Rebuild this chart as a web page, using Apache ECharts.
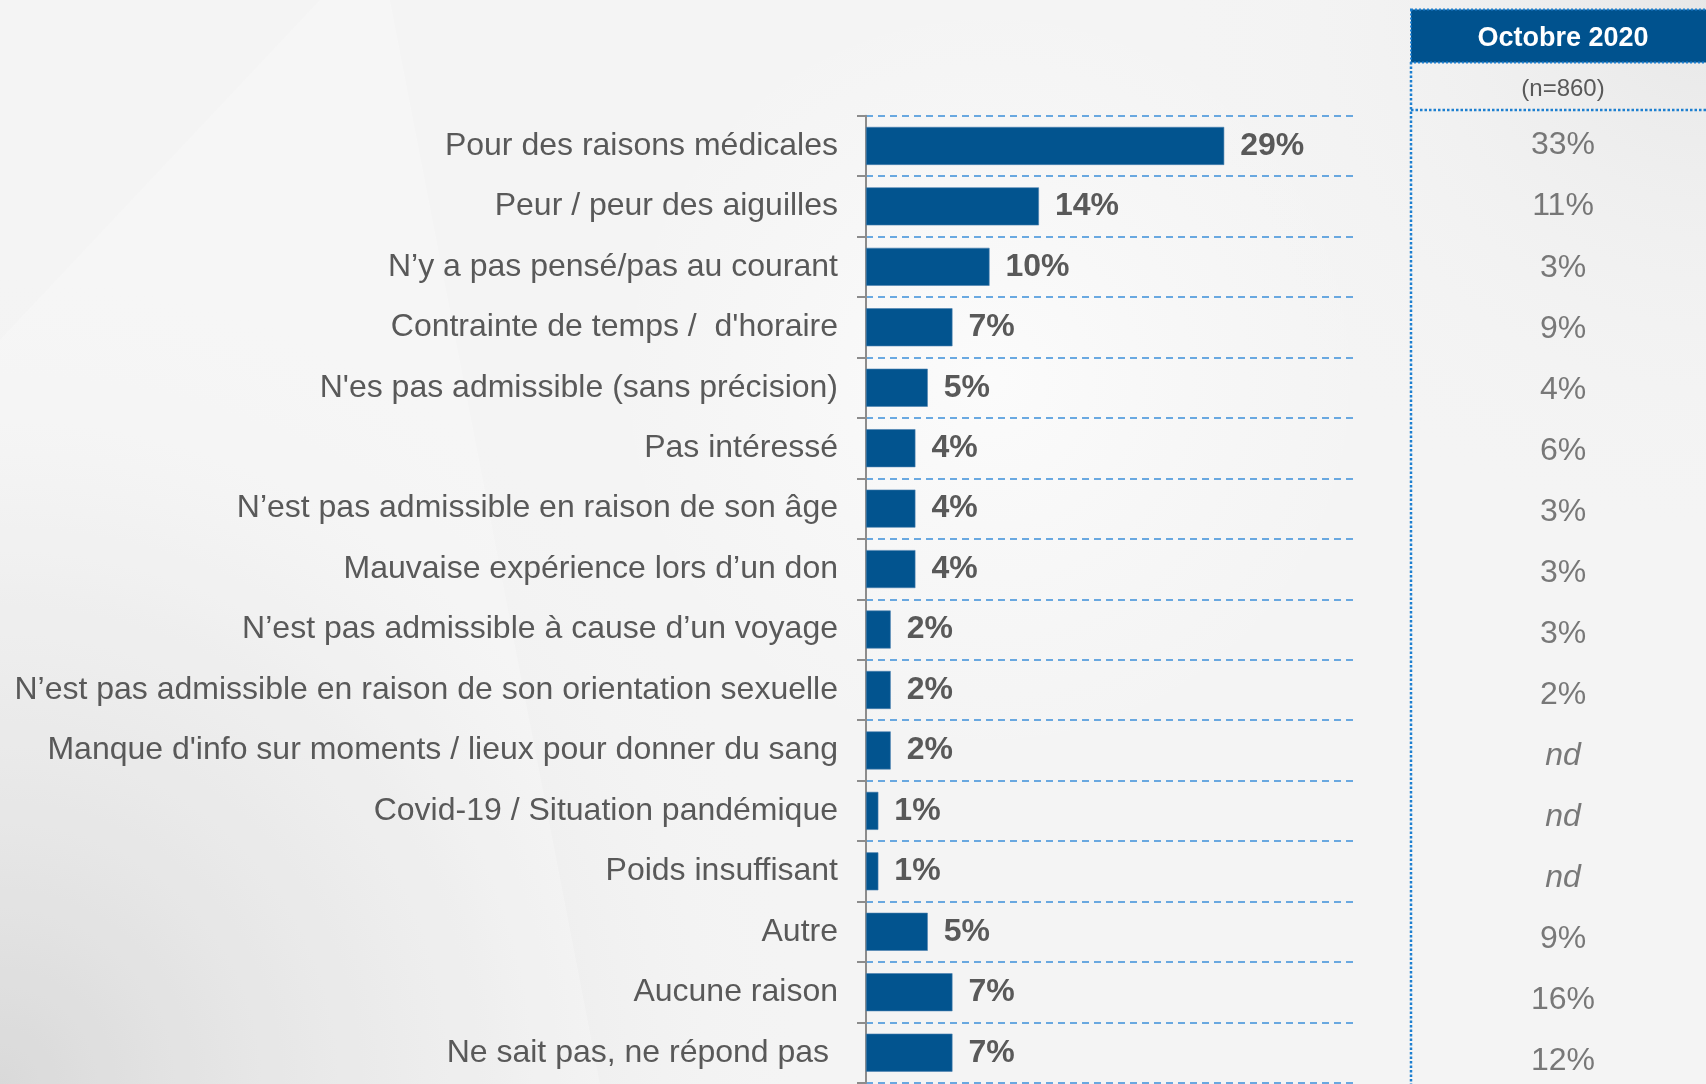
<!DOCTYPE html>
<html>
<head>
<meta charset="utf-8">
<script src="https://cdn.jsdelivr.net/npm/echarts@6/dist/echarts.min.js"></script>
<style>
html,body{margin:0;padding:0;width:1706px;height:1084px;overflow:hidden;}
#c{width:1706px;height:1084px;}
</style>
</head>
<body>
<div id="c"></div>
<script>
const categories = [
  "Pour des raisons médicales",
  "Peur / peur des aiguilles",
  "N’y a pas pensé/pas au courant",
  "Contrainte de temps /  d'horaire",
  "N'es pas admissible (sans précision)",
  "Pas intéressé",
  "N’est pas admissible en raison de son âge",
  "Mauvaise expérience lors d’un don",
  "N’est pas admissible à cause d’un voyage",
  "N’est pas admissible en raison de son orientation sexuelle",
  "Manque d'info sur moments / lieux pour donner du sang",
  "Covid-19 / Situation pandémique",
  "Poids insuffisant",
  "Autre",
  "Aucune raison",
  "Ne sait pas, ne répond pas "
];
const currentValues = [29, 14, 10, 7, 5, 4, 4, 4, 2, 2, 2, 1, 1, 5, 7, 7];
const octobre2020 = [33, 11, 3, 9, 4, 6, 3, 3, 3, 2, null, null, null, 9, 16, 12];
const columnTitle = "Octobre 2020";
const columnSample = "(n=860)";

const FONT = '"Liberation Sans", Arial, sans-serif';
const TXT = '#595959';

const chart = echarts.init(document.getElementById('c'), null, {renderer: 'canvas'});
const bandTop = 115.7, bandH = 60.45;
const gridH = bandH * categories.length;
const rowTop = 115, rowH = 61.07;

chart.setOption({
  backgroundColor: '#f4f4f4',
  animation: false,
  textStyle: {fontFamily: FONT},
  graphic: [
    {
      type: 'rect', z: -20, silent: true,
      shape: {x: 0, y: 0, width: 1706, height: 1084},
      style: {fill: {type: 'radial', x: 0, y: 1, r: 0.75, colorStops: [
        {offset: 0, color: 'rgba(205,205,205,0.95)'},
        {offset: 0.6, color: 'rgba(225,225,225,0.5)'},
        {offset: 1, color: 'rgba(244,244,244,0)'}
      ]}}
    },
    {
      type: 'rect', z: -20, silent: true,
      shape: {x: 0, y: 0, width: 1706, height: 1084},
      style: {fill: {type: 'radial', x: 1, y: 0, r: 0.5, colorStops: [
        {offset: 0, color: 'rgba(228,228,228,0.8)'},
        {offset: 1, color: 'rgba(244,244,244,0)'}
      ]}}
    },
    {
      type: 'rect', z: -20, silent: true,
      shape: {x: 0, y: 0, width: 1706, height: 1084},
      style: {fill: {type: 'radial', x: 0.58, y: 0.35, r: 0.35, colorStops: [
        {offset: 0, color: 'rgba(252,252,252,0.9)'},
        {offset: 1, color: 'rgba(250,250,250,0)'}
      ]}}
    },
    {
      type: 'polygon', z: -10, silent: true,
      shape: {points: [[320, 0], [390, 0], [600, 1084], [0, 1084], [0, 340]]},
      style: {fill: 'rgba(255,255,255,0.22)'}
    },
    {
      type: 'rect', z: 5,
      shape: {x: 1411, y: 9.5, width: 320, height: 53},
      style: {fill: '#00528E', stroke: '#1C7FD0', lineWidth: 2, lineDash: [2, 2]}
    },
    {
      type: 'text', z: 6,
      x: 1563, y: 39,
      style: {text: columnTitle, fill: '#ffffff', font: 'bold 27px ' + FONT, align: 'center', verticalAlign: 'middle'}
    },
    {
      type: 'text', z: 6,
      x: 1563, y: 89,
      style: {text: columnSample, fill: TXT, font: '24px ' + FONT, align: 'center', verticalAlign: 'middle'}
    },
    {
      type: 'line', z: 5,
      shape: {x1: 1411, y1: 110, x2: 1706, y2: 110},
      style: {stroke: '#1C7FD0', lineWidth: 2.5, lineDash: [2.5, 2]}
    },
    {
      type: 'line', z: 5,
      shape: {x1: 1411, y1: 62, x2: 1411, y2: 1084},
      style: {stroke: '#1C7FD0', lineWidth: 2.5, lineDash: [2.5, 2]}
    }
  ],
  grid: [
    {left: 866, top: bandTop, width: 491, height: gridH, containLabel: false, outerBoundsMode: 'none'},
    {left: 1421, top: rowTop, width: 284, height: rowH * categories.length, containLabel: false, outerBoundsMode: 'none'}
  ],
  xAxis: [
    {gridIndex: 0, type: 'value', min: 0, max: 39.75, show: false},
    {gridIndex: 1, type: 'value', min: 0, max: 1, show: false}
  ],
  yAxis: [
    {
      gridIndex: 0, type: 'category', data: categories, inverse: true,
      axisLine: {show: true, lineStyle: {color: '#8c8c8c', width: 2}},
      axisTick: {show: true, length: 9, lineStyle: {color: '#8c8c8c', width: 2}},
      splitLine: {show: true, lineStyle: {color: '#3B8FD9', width: 1.5, type: [7, 5]}},
      axisLabel: {color: TXT, fontSize: 32, fontFamily: FONT, margin: 28}
    },
    {
      gridIndex: 1, type: 'category', data: categories, inverse: true, show: false
    }
  ],
  series: [
    {
      type: 'bar', xAxisIndex: 0, yAxisIndex: 0,
      data: currentValues,
      barWidth: 38,
      itemStyle: {color: '#02548F', borderColor: '#4a7fae', borderWidth: 0.6},
      label: {
        show: true, position: 'right', distance: 16,
        formatter: '{c}%', color: TXT, fontSize: 32, fontWeight: 'bold', fontFamily: FONT
      }
    },
    {
      type: 'scatter', xAxisIndex: 1, yAxisIndex: 1,
      symbolSize: 0,
      data: octobre2020.map((v, i) => ({value: [0.5, i], raw: v})),
      label: {
        show: true, position: 'inside', offset: [0, 0],
        formatter: p => p.data.raw === null ? '{it|nd}' : '{n|' + p.data.raw + '%}',
        rich: {
          n: {color: TXT, fontSize: 32, fontFamily: FONT},
          it: {color: TXT, fontSize: 32, fontFamily: FONT, fontStyle: 'italic'}
        }
      }
    }
  ]
});
</script>
</body>
</html>
